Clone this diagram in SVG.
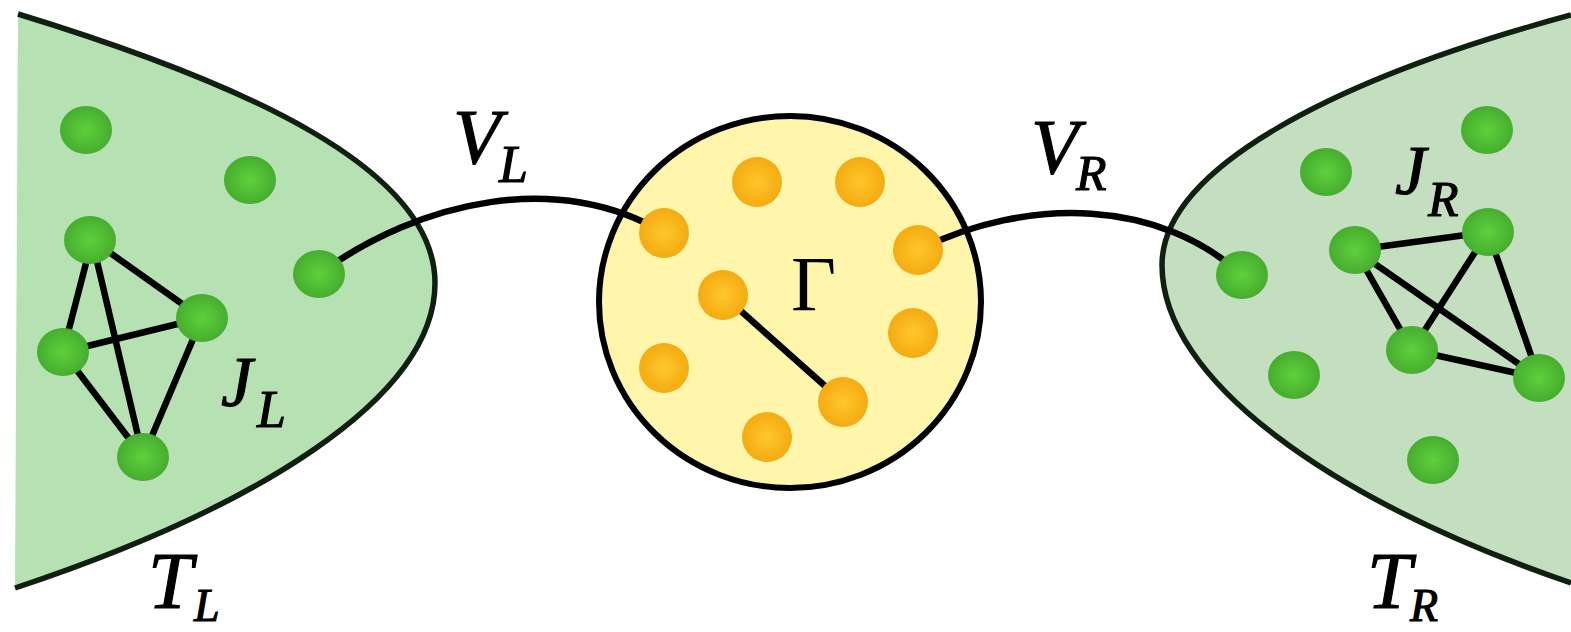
<svg xmlns="http://www.w3.org/2000/svg" width="1571" height="632" viewBox="0 0 1571 632">
<defs>
<radialGradient id="gg" cx="50%" cy="50%" r="50%">
<stop offset="0" stop-color="#5fd03d"/>
<stop offset="1" stop-color="#46ad2e"/>
</radialGradient>
<radialGradient id="og" cx="50%" cy="50%" r="50%">
<stop offset="0" stop-color="#ffc72a"/>
<stop offset="1" stop-color="#f4ab12"/>
</radialGradient>
<style>
.gn{fill:url(#gg)}
.on{fill:url(#og)}
.edge{stroke:#000;stroke-width:6.5;fill:none;stroke-linecap:round}
.lbl{font-family:"Liberation Serif","Times New Roman",serif;font-style:italic;fill:#000;stroke:#000;stroke-width:1.1}
</style>
</defs>
<rect width="1571" height="632" fill="#fff"/>
<g id="TL">
<path d="M18,14 C250,85 435,170 435,283 C435,400 250,510 15,588 Z" fill="#b6e1b2" stroke="none"/>
<path d="M18,14 C250,85 435,170 435,283 C435,400 250,510 15,588" fill="none" stroke="#102010" stroke-width="5.5"/>
</g>
<g id="TR">
<path d="M1571,15 C1330,80 1162,170 1162,265 C1162,380 1330,500 1571,583 Z" fill="#c3dfc0" stroke="none"/>
<path d="M1571,15 C1330,80 1162,170 1162,265 C1162,380 1330,500 1571,583" fill="none" stroke="#102010" stroke-width="5.5"/>
</g>
<g id="Gamma">
<ellipse cx="790" cy="302" rx="191" ry="186" fill="#fff6ac" stroke="#000" stroke-width="6"/>
</g>
<g id="connectors">
<path class="edge" d="M319,274 C420,200 560,170 664,233"/>
<path class="edge" d="M918,250 C1030,195 1160,200 1242,275"/>
<line class="edge" x1="92" y1="240" x2="202" y2="318"/>
<line class="edge" x1="92" y1="240" x2="63" y2="352"/>
<line class="edge" x1="92" y1="240" x2="143" y2="457"/>
<line class="edge" x1="63" y1="352" x2="202" y2="318"/>
<line class="edge" x1="63" y1="352" x2="143" y2="457"/>
<line class="edge" x1="202" y1="318" x2="143" y2="457"/>
<line class="edge" x1="723" y1="295" x2="843" y2="402"/>
<line class="edge" x1="1355" y1="250" x2="1488" y2="232"/>
<line class="edge" x1="1355" y1="250" x2="1412" y2="350"/>
<line class="edge" x1="1355" y1="250" x2="1539" y2="378"/>
<line class="edge" x1="1488" y1="232" x2="1412" y2="350"/>
<line class="edge" x1="1488" y1="232" x2="1539" y2="378"/>
<line class="edge" x1="1412" y1="350" x2="1539" y2="378"/>
</g>
<g id="left-nodes">
<ellipse class="gn" cx="86" cy="130" rx="26" ry="24"/>
<ellipse class="gn" cx="250" cy="180" rx="26" ry="24"/>
<ellipse class="gn" cx="90" cy="240" rx="26" ry="24"/>
<ellipse class="gn" cx="202" cy="318" rx="26" ry="24"/>
<ellipse class="gn" cx="63" cy="352" rx="26" ry="24"/>
<ellipse class="gn" cx="143" cy="457" rx="26" ry="24"/>
<ellipse class="gn" cx="319" cy="274" rx="26" ry="24"/>
</g>
<g id="center-nodes">
<circle class="on" cx="757" cy="182" r="25"/>
<circle class="on" cx="860" cy="182" r="25"/>
<circle class="on" cx="664" cy="233" r="25"/>
<circle class="on" cx="918" cy="250" r="25"/>
<circle class="on" cx="723" cy="295" r="25"/>
<circle class="on" cx="913" cy="333" r="25"/>
<circle class="on" cx="664" cy="368" r="25"/>
<circle class="on" cx="843" cy="402" r="25"/>
<circle class="on" cx="767" cy="437" r="25"/>
</g>
<g id="right-nodes">
<ellipse class="gn" cx="1487" cy="130" rx="26" ry="24"/>
<ellipse class="gn" cx="1326" cy="172" rx="26" ry="24"/>
<ellipse class="gn" cx="1488" cy="232" rx="26" ry="24"/>
<ellipse class="gn" cx="1355" cy="250" rx="26" ry="24"/>
<ellipse class="gn" cx="1242" cy="275" rx="26" ry="24"/>
<ellipse class="gn" cx="1412" cy="350" rx="26" ry="24"/>
<ellipse class="gn" cx="1294" cy="375" rx="26" ry="24"/>
<ellipse class="gn" cx="1539" cy="378" rx="26" ry="24"/>
<ellipse class="gn" cx="1433" cy="460" rx="26" ry="24"/>
</g>
<g id="labels">
<text class="lbl" x="453" y="163" font-size="78">V</text>
<text class="lbl" x="499" y="182" font-size="52">L</text>
<text class="lbl" x="1031" y="173" font-size="78">V</text>
<text class="lbl" x="1076" y="190" font-size="50">R</text>
<text class="lbl" x="221" y="406" font-size="71">J</text>
<text class="lbl" x="257" y="427" font-size="52">L</text>
<text class="lbl" x="1395" y="194" font-size="70">J</text>
<text class="lbl" x="1428" y="216" font-size="50">R</text>
<text class="lbl" x="148" y="608" font-size="80">T</text>
<text class="lbl" x="194" y="621" font-size="46">L</text>
<text class="lbl" x="1367" y="608" font-size="80">T</text>
<text class="lbl" x="1410" y="621" font-size="46">R</text>
<text x="791" y="310" font-size="78" font-family="Liberation Serif, serif" fill="#000">Γ</text>
</g>
</svg>
